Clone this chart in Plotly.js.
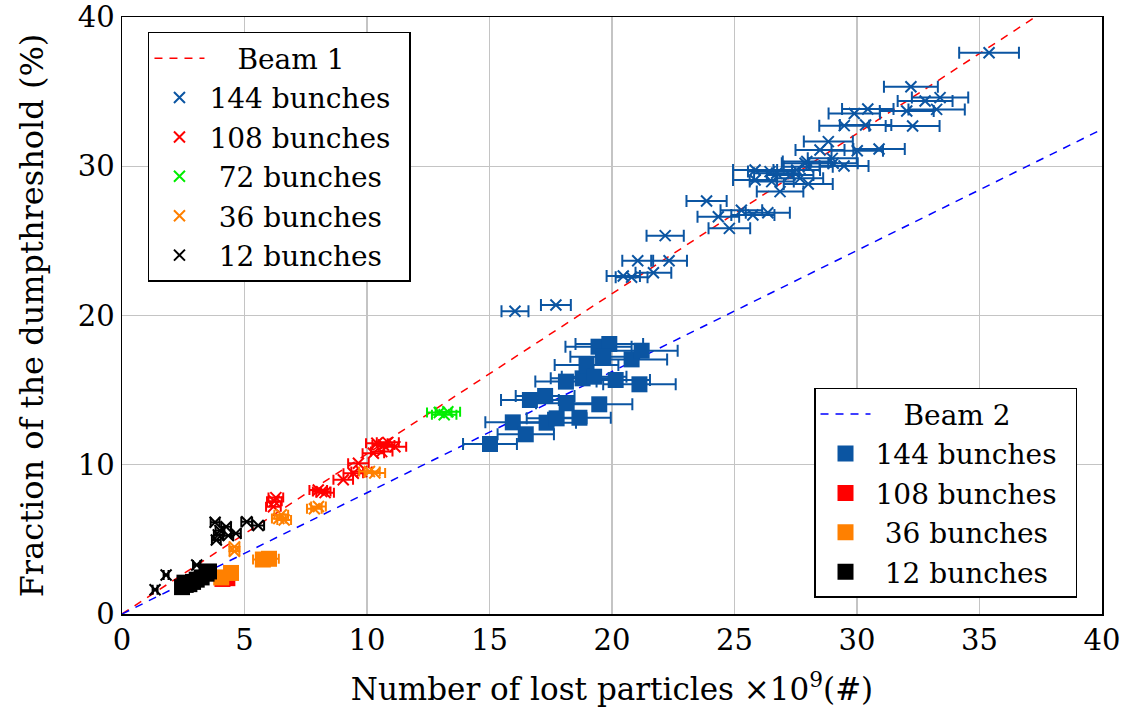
<!DOCTYPE html>
<html>
<head>
<meta charset="utf-8">
<script src="https://cdn.plot.ly/plotly-3.0.1.min.js"></script>
<style>
  html, body { margin: 0; padding: 0; background: #ffffff; }
  #chart { width: 1136px; height: 720px; }
</style>
</head>
<body>
<div id="chart"></div>
<script>
// Dump-threshold fraction against lost particles, per beam and filling scheme.

// Fitted slopes of the two beams (fraction % per 1e9 lost particles)
const beam1Slope = 1.073;
const beam2Slope = 0.812;
const fitX = [0, 40];

// Beam 1, 144 bunches
const b1_144_x = [16.04, 17.71, 20.46, 20.80, 21.69, 21.05, 22.33, 22.17, 23.86, 24.34, 25.28, 25.75, 26.36, 24.79,
  25.84, 25.84, 26.45, 26.72, 26.52, 26.86, 27.27, 27.54, 27.88, 28.01, 27.67, 28.01, 29.03, 29.47, 28.49, 30.01,
  30.90, 28.83, 35.39, 32.20, 32.78, 33.39, 32.03, 33.25, 29.89, 30.44, 29.48, 30.35, 32.27, 28.99, 27.95];
const b1_144_y = [20.28, 20.70, 22.65, 22.56, 22.87, 23.67, 23.67, 25.35, 27.67, 26.62, 27.05, 26.73, 26.89, 25.84,
  29.75, 29.08, 29.64, 29.53, 28.97, 28.30, 29.41, 29.75, 30.20, 29.97, 29.19, 28.81, 30.20, 30.02, 31.09, 31.04,
  31.16, 31.65, 37.61, 35.33, 34.37, 34.60, 33.70, 33.81, 33.54, 33.84, 32.72, 32.76, 32.70, 30.53, 30.32];
const b1_144_err = [0.55, 0.61, 0.68, 0.65, 0.73, 0.63, 0.73, 0.76, 0.82, 0.85, 0.85, 0.88, 0.90, 0.85,
  0.90, 0.90, 0.90, 0.92, 0.90, 0.95, 0.95, 0.95, 0.95, 1.00, 0.95, 1.00, 1.00, 1.00, 1.00, 1.05,
  1.05, 1.00, 1.22, 1.10, 1.12, 1.15, 1.10, 1.15, 1.05, 1.05, 1.02, 1.05, 1.10, 1.00, 0.98];

// Beam 1, 108 bunches
const b1_108_x = [6.18, 6.22, 6.28, 8.01, 8.15, 8.29, 9.03, 9.44, 9.65, 9.78, 10.26, 10.40, 10.60, 10.67, 10.85, 11.14];
const b1_108_y = [7.19, 7.55, 7.80, 8.31, 8.20, 8.13, 9.00, 9.43, 10.10, 9.54, 10.77, 11.44, 10.88, 11.32, 11.50, 11.21];
const b1_108_err = [0.30, 0.30, 0.30, 0.36, 0.36, 0.36, 0.40, 0.40, 0.42, 0.42, 0.44, 0.44, 0.44, 0.45, 0.45, 0.46];

// Beam 1, 72 bunches
const b1_72_x = [12.95, 13.15, 13.30];
const b1_72_y = [13.50, 13.35, 13.55];
const b1_72_err = [0.50, 0.50, 0.50];

// Beam 1, 36 bunches
const b1_36_x = [4.59, 4.59, 6.40, 6.50, 6.62, 7.85, 8.02, 10.10, 10.32];
const b1_36_y = [4.50, 4.20, 6.40, 6.65, 6.30, 7.05, 7.20, 9.55, 9.45];
const b1_36_err = [0.20, 0.20, 0.28, 0.28, 0.28, 0.30, 0.30, 0.42, 0.42];

// Beam 1, 12 bunches
const b1_12_x = [1.35, 1.80, 3.05, 3.80, 3.85, 3.93, 4.00, 4.25, 4.34, 4.65, 5.09, 5.56];
const b1_12_y = [1.62, 2.61, 3.28, 6.15, 4.96, 5.30, 5.60, 5.85, 5.25, 5.40, 6.18, 5.93];
const b1_12_err = [0.10, 0.10, 0.15, 0.18, 0.18, 0.18, 0.18, 0.20, 0.20, 0.20, 0.22, 0.24];

// Beam 2, 144 bunches
const b2_144_x = [15.02, 15.95, 16.48, 16.65, 17.27, 17.33, 17.74, 18.15, 18.67, 18.12, 18.80, 18.96, 19.27, 19.48,
  19.45, 19.89, 19.65, 20.15, 20.80, 21.21, 21.12];
const b2_144_y = [11.39, 12.84, 12.04, 14.34, 14.61, 12.82, 13.11, 14.12, 13.15, 15.57, 15.79, 16.68, 15.90, 14.05,
  17.91, 18.09, 17.24, 15.68, 17.06, 17.64, 15.39];
const b2_144_err = [1.10, 1.12, 1.15, 1.18, 1.20, 1.20, 1.22, 1.25, 1.28, 1.25, 1.30, 1.30, 1.32, 1.35,
  1.35, 1.38, 1.35, 1.40, 1.45, 1.47, 1.48];

// Beam 2, 108 bunches (mostly hidden under the 36-bunch squares)
const b2_108_x = [4.10, 4.30];
const b2_108_y = [2.35, 2.40];
const b2_108_err = [0.20, 0.20];

// Beam 2, 36 bunches
const b2_36_x = [4.05, 4.45, 5.75, 6.00];
const b2_36_y = [2.45, 2.75, 3.65, 3.70];
const b2_36_err = [0.20, 0.22, 0.40, 0.40];

// Beam 2, 12 bunches
const b2_12_x = [2.45, 2.60, 2.75, 2.90, 3.05, 3.25, 3.45, 3.55, 2.55];
const b2_12_y = [1.80, 1.95, 2.00, 2.15, 2.30, 2.45, 2.70, 2.85, 2.10];
const b2_12_err = [0.10, 0.10, 0.10, 0.12, 0.12, 0.12, 0.14, 0.14, 0.10];

const FONT = 'DejaVu Serif, Liberation Serif, serif';
const BLUE = '#0b55a2';
const RED = '#ff0000';
const GREEN = '#00ee00';
const ORANGE = '#ff8000';
const BLACK = '#000000';

function crossTrace(name, xs, ys, errs, color, capw) {
  return {
    type: 'scatter', mode: 'markers', name: name, legend: 'legend',
    x: xs, y: ys,
    error_x: { type: 'data', array: errs, visible: true, color: color, thickness: 2, width: capw },
    marker: { symbol: 'x-thin', size: 11, color: color, line: { color: color, width: 2 } }
  };
}

function squareTrace(name, xs, ys, errs, color, capw) {
  return {
    type: 'scatter', mode: 'markers', name: name, legend: 'legend2',
    x: xs, y: ys,
    error_x: { type: 'data', array: errs, visible: true, color: color, thickness: 2, width: capw },
    marker: { symbol: 'square', size: 16, color: color, line: { width: 0 } }
  };
}

function fitTrace(name, slope, color, legendId) {
  return {
    type: 'scatter', mode: 'lines', name: name, legend: legendId,
    x: fitX, y: fitX.map(v => v * slope),
    line: { color: color, width: 1.5, dash: '8px,7px' }
  };
}

// Legend labels are padded so that they sit centred in their column
const traces = [
  fitTrace('\u2003Beam 1', beam1Slope, RED, 'legend'),
  fitTrace('\u2003Beam 2', beam2Slope, '#0000ff', 'legend2'),
  crossTrace('144 bunches\u2002', b1_144_x, b1_144_y, b1_144_err, BLUE, 6),
  crossTrace('108 bunches\u2002', b1_108_x, b1_108_y, b1_108_err, RED, 5),
  crossTrace('\u200472 bunches', b1_72_x, b1_72_y, b1_72_err, GREEN, 5),
  crossTrace('\u200436 bunches', b1_36_x, b1_36_y, b1_36_err, ORANGE, 5),
  crossTrace('\u200412 bunches', b1_12_x, b1_12_y, b1_12_err, BLACK, 5),
  squareTrace('144 bunches\u2002', b2_144_x, b2_144_y, b2_144_err, BLUE, 6),
  squareTrace('108 bunches\u2002', b2_108_x, b2_108_y, b2_108_err, RED, 5),
  squareTrace('\u200436 bunches', b2_36_x, b2_36_y, b2_36_err, ORANGE, 5),
  squareTrace('\u200412 bunches', b2_12_x, b2_12_y, b2_12_err, BLACK, 5)
];

const axisCommon = {
  showgrid: true, gridcolor: '#c4c4c4', gridwidth: 1.3,
  zeroline: false, showline: true, mirror: true, linecolor: '#000000', linewidth: 1.5,
  ticks: '', tickfont: { family: FONT, size: 29, color: '#000000' }
};

const legendCommon = {
  bgcolor: '#ffffff', bordercolor: '#000000', borderwidth: 1.5,
  font: { family: FONT, size: 28, color: '#000000' },
  tracegroupgap: 0, itemwidth: 50
};

const layout = {
  width: 1136, height: 720,
  margin: { l: 122, r: 34, t: 17, b: 106 },
  paper_bgcolor: '#ffffff', plot_bgcolor: '#ffffff',
  showlegend: true,
  xaxis: Object.assign({}, axisCommon, {
    range: [0, 40], dtick: 5, tick0: 0,
    title: { text: 'Number of lost particles \u00d710<sup>9</sup>(#)', font: { family: FONT, size: 31, color: '#000000' }, standoff: 22 }
  }),
  yaxis: Object.assign({}, axisCommon, {
    range: [0, 40], dtick: 10, tick0: 0,
    title: { text: 'Fraction of the dumpthreshold (%)', font: { family: FONT, size: 32, color: '#000000' }, standoff: 24 }
  }),
  legend: Object.assign({}, legendCommon, { x: 0.0265, y: 0.975, xanchor: 'left', yanchor: 'top' }),
  legend2: Object.assign({}, legendCommon, { x: 0.9745, y: 0.027, xanchor: 'right', yanchor: 'bottom' })
};

Plotly.newPlot('chart', traces, layout, { staticPlot: true, displayModeBar: false });
</script>
</body>
</html>
